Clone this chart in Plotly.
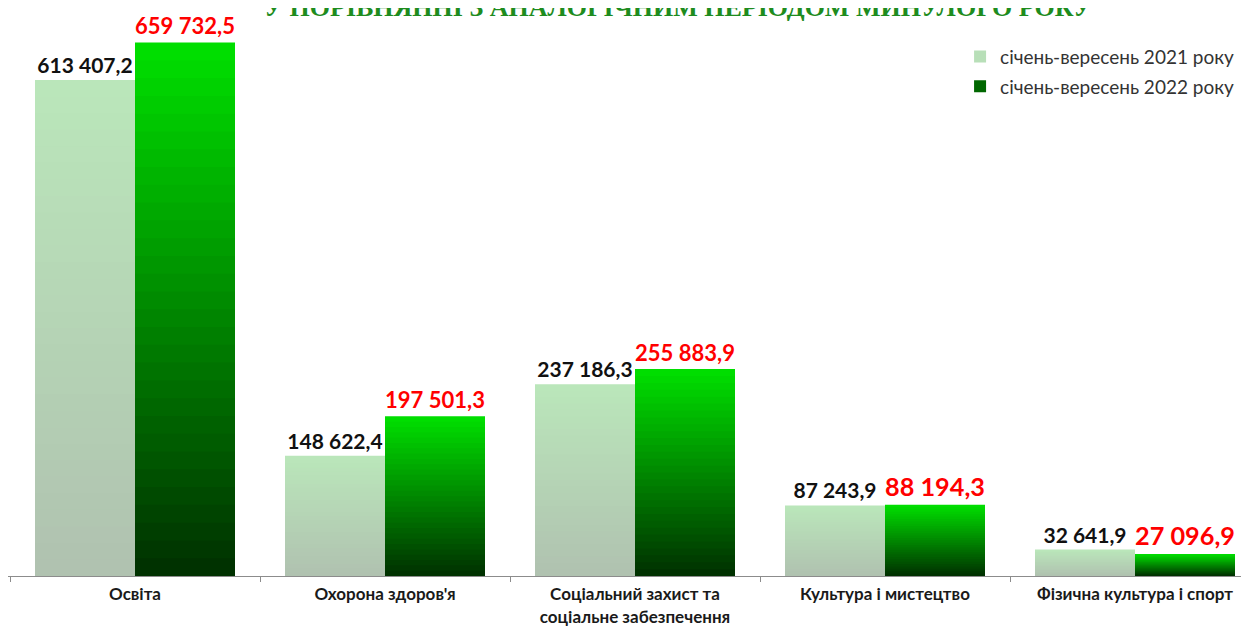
import plotly.graph_objects as go

# дані
categories = ["Освіта", "Охорона здоров'я", "Соціальний захист та<br>соціальне забезпечення",
              "Культура і мистецтво", "Фізична культура і спорт"]
values_2021 = [613407.2, 148622.4, 237186.3, 87243.9, 32641.9]
values_2022 = [659732.5, 197501.3, 255883.9, 88194.3, 27096.9]
labels_2021 = ["613 407,2", "148 622,4", "237 186,3", "87 243,9", "32 641,9"]
labels_2022 = ["659 732,5", "197 501,3", "255 883,9", "88 194,3", "27 096,9"]
name_2021 = "січень-вересень 2021 року"
name_2022 = "січень-вересень 2022 року"

FONT = "Lato"
N = 30  # кроки градієнта


def mix(c1, c2, t):
    return "rgb(%d,%d,%d)" % tuple(round(a + (b - a) * t) for a, b in zip(c1, c2))


fig = go.Figure()


def add_series(vals, labels, name, group, top, bottom, txtfont, legend_k):
    # градієнт: накладені стовпці, кожен нижчий і темніший
    for k in range(N):
        frac = 1 - k / N
        fig.add_trace(go.Bar(
            x=categories, y=[v * frac for v in vals],
            offsetgroup=group, legendgroup=group, name=name,
            showlegend=(k == legend_k),
            marker=dict(color=mix(top, bottom, k / (N - 1)), line=dict(width=0)),
            text=labels if k == 0 else None,
            textposition="outside" if k == 0 else "none",
            textfont=txtfont, cliponaxis=False,
            hoverinfo="skip" if k else None,
        ))


add_series(values_2021, labels_2021, name_2021, "a",
           (186, 230, 186), (176, 194, 176),
           dict(family=FONT, size=21, color="#111111", weight="bold"), 6)
add_series(values_2022, labels_2022, name_2022, "b",
           (0, 222, 0), (0, 50, 0),
           dict(family=FONT, size=26, color="#ff0000", weight="bold"), 20)

fig.add_annotation(
    text="У ПОРІВНЯННІ З АНАЛОГІЧНИМ ПЕРІОДОМ МИНУЛОГО РОКУ",
    xref="paper", yref="paper", x=0.54, y=0.976, xanchor="center", yanchor="bottom",
    showarrow=False,
    font=dict(family="Liberation Serif", size=26, color="#1e8c1e", weight="bold"),
)

# сторінка має відступ body 8px, тому поля зсунуті
fig.update_layout(
    width=1249, height=626,
    margin=dict(l=0, r=8, t=2, b=58, autoexpand=False),
    plot_bgcolor="white", paper_bgcolor="white",
    barmode="group", bargap=0.2, bargroupgap=0,
    font=dict(family=FONT, color="#222222"),
    showlegend=True,
    legend=dict(x=0.992, y=0.951, xanchor="right", yanchor="top",
                font=dict(family=FONT, size=19, color="#333333"),
                tracegroupgap=2, bgcolor="rgba(0,0,0,0)"),
    xaxis=dict(range=[-0.508, 4.456], showline=True, linecolor="#8c8c8c", linewidth=1,
               ticks="outside", tickson="boundaries", ticklen=5, tickcolor="#8c8c8c",
               tickfont=dict(family=FONT, size=17, color="#1a1a1a", weight="bold"),
               ticklabelstandoff=3,
               showgrid=False, automargin=False),
    yaxis=dict(range=[0, 700000], visible=False, showgrid=False, automargin=False),
)

fig.write_html("out.html")
